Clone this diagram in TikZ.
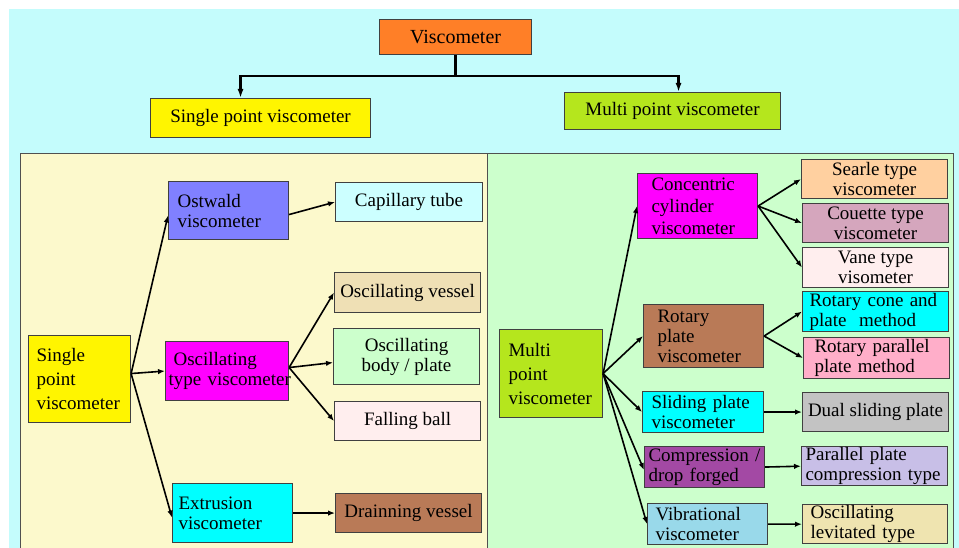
\documentclass[tikz,border=0pt]{standalone}
\usepackage{fontspec}
\setmainfont{Liberation Serif}
\usetikzlibrary{arrows.meta}
\hyphenpenalty=10000
\exhyphenpenalty=10000
\definecolor{bgc}{HTML}{C4FCFC}
\definecolor{lefty}{HTML}{FCF9CC}
\definecolor{rightg}{HTML}{CCFFCC}
\definecolor{panelline}{HTML}{505050}
\definecolor{boxline}{HTML}{404040}
\definecolor{orng}{HTML}{FF7F27}
\definecolor{yel}{HTML}{FFF500}
\definecolor{lime}{HTML}{B5E61D}
\definecolor{ostw}{HTML}{8080FF}
\definecolor{lcyan}{HTML}{CCFFFF}
\definecolor{mag}{HTML}{FF00FF}
\definecolor{tanc}{HTML}{EFE0B5}
\definecolor{lgreen}{HTML}{CCFFCC}
\definecolor{mrose}{HTML}{FFEEEE}
\definecolor{cyanc}{HTML}{00FFFF}
\definecolor{brownc}{HTML}{B97A57}
\definecolor{peach}{HTML}{FFD0A0}
\definecolor{mauve}{HTML}{D5A6BD}
\definecolor{pinkc}{HTML}{FFAEC9}
\definecolor{grayc}{HTML}{C3C3C3}
\definecolor{purp}{HTML}{A349A4}
\definecolor{lav}{HTML}{C8BFE7}
\definecolor{lblue}{HTML}{99D9EA}
\definecolor{tanb}{HTML}{EFE4B0}
\newcommand\bx[8]{\node[bx,fill=#6,anchor=north west,minimum width=#4pt,minimum height=#5pt,#7] (#1) at (#2,#3) {#8};}
\begin{document}
\begin{tikzpicture}[x=1pt,y=-1pt,
  bx/.style={draw=boxline,line width=1.1pt,inner xsep=3pt,inner ysep=1pt,align=center,font=\fontsize{19}{20}\selectfont},
  arr/.style={line width=1.6pt,-{Latex[length=7pt,width=5.5pt]}},
  toparr/.style={line width=2.5pt,-{Latex[length=9pt,width=6pt]}}]
\useasboundingbox (0,0) rectangle (959,548);
\fill[bgc] (9,9) rectangle (959,548);
\draw[panelline,line width=1pt,fill=lefty] (20,154) rectangle (487,552);
\draw[panelline,line width=1pt,fill=rightg] (487,154) rectangle (953,552);
% top
\bx{visc}{379}{19}{152}{35}{orng}{font=\fontsize{20}{22}\selectfont}{Viscometer}
\bx{spv}{150}{98}{220}{39}{yel}{}{Single point viscometer}
\bx{mpv}{564}{92}{216}{37}{lime}{}{Multi point viscometer}
% left panel
\bx{single}{28}{335}{102}{87}{yel}{align=left,text width=86pt,font=\fontsize{19}{24}\selectfont}{Single\\point\\viscometer}
\bx{ostwald}{168}{181}{120}{58}{ostw}{align=left,text width=102pt}{Ostwald\\viscometer}
\bx{capil}{335}{182}{147}{39}{lcyan}{}{Capillary tube}
\bx{osctype}{165}{341}{123}{59}{mag}{align=left,text width=117pt}{\hspace*{5pt}Oscillating\\type~viscometer}
\bx{oscves}{334}{272}{146}{40}{tanc}{}{Oscillating vessel}
\bx{oscbody}{333}{328}{146}{56}{lgreen}{}{Oscillating\\body / plate}
\bx{fall}{334}{401}{146}{39}{mrose}{}{Falling ball}
\bx{extr}{172}{483}{120}{59}{cyanc}{align=left,text width=108pt}{Extrusion\\viscometer}
\bx{drain}{335}{493}{146}{39}{brownc}{}{Drainning vessel}
% right panel
\bx{multi}{499}{329}{103}{88}{lime}{align=left,text width=85pt,font=\fontsize{19}{24}\selectfont}{Multi\\point\\viscometer}
\bx{conc}{637}{173}{120}{65}{mag}{align=left,text width=92pt,font=\fontsize{19}{22}\selectfont}{Concentric\\cylinder\\viscometer}
\bx{searle}{801}{159}{146}{39}{peach}{}{Searle type\\viscometer}
\bx{couette}{802}{203}{146}{39}{mauve}{}{Couette type\\viscometer}
\bx{vane}{802}{247}{146}{40}{mrose}{}{Vane type\\visometer}
\bx{rotplate}{643}{304}{120}{63}{brownc}{align=left,text width=92pt}{Rotary\\plate\\viscometer}
\bx{cone}{802}{291}{146}{40}{cyanc}{align=left,text width=132pt}{Rotary~cone~and\\plate~~method}
\bx{rpar}{803}{337}{146}{41}{pinkc}{align=left,text width=124pt}{Rotary~parallel\\plate~method}
\bx{sliding}{642}{391}{121}{41}{cyanc}{align=left,text width=103pt}{Sliding~plate\\viscometer}
\bx{dual}{802}{392}{146}{39}{grayc}{}{Dual sliding plate}
\bx{compr}{644}{446}{120}{41}{purp}{align=left,text width=112pt}{Compression~/\\drop~forged}
\bx{pcomp}{801}{446}{146}{38}{lav}{align=left,text width=138pt}{Parallel~plate\\compression~type}
\bx{vibr}{647}{503}{120}{41}{lblue}{align=left,text width=104pt}{Vibrational\\viscometer}
\bx{osclev}{802}{504}{145}{39}{tanb}{align=left,text width=129pt}{Oscillating\\levitated~type}
% top connectors
\coordinate (tj) at ([yshift=-21pt]visc.south);
\draw[line width=2.5pt] (visc.south) -- (tj);
\draw[toparr] (tj) -| ([xshift=-20pt]spv.north);
\draw[toparr] (tj) -| ([xshift=6pt]mpv.north);
% left arrows
\coordinate (sh) at ([yshift=5.5pt]single.east);
\draw[arr] (sh) -- ([yshift=-5pt]ostwald.west);
\draw[arr] (sh) -- (osctype.west);
\draw[arr] (sh) -- ([yshift=-4.5pt]extr.west);
\draw[arr] ([yshift=-4pt]ostwald.east) -- (capil.west);
\coordinate (oh) at ([yshift=3.5pt]osctype.east);
\draw[arr] (oh) -- (oscves.west);
\draw[arr] (oh) -- ([yshift=-6pt]oscbody.west);
\draw[arr] (oh) -- (fall.west);
\draw[arr] (extr.east) -- (drain.west);
% right arrows
\draw[arr] (multi.east) -- (conc.west);
\draw[arr] (multi.east) -- (rotplate.west);
\draw[arr] (multi.east) -- (sliding.west);
\draw[arr] (multi.east) -- ([yshift=-3pt]compr.west);
\draw[arr] (multi.east) -- (vibr.west);
\draw[arr] (conc.east) -- (searle.west);
\draw[arr] (conc.east) -- (couette.west);
\draw[arr] (conc.east) -- (vane.west);
\draw[arr] (rotplate.east) -- (cone.west);
\draw[arr] (rotplate.east) -- (rpar.west);
\draw[arr] (sliding.east) -- (dual.west);
\draw[arr] (compr.east) -- (pcomp.west);
\draw[arr] (vibr.east) -- (osclev.west);
\end{tikzpicture}
\end{document}
